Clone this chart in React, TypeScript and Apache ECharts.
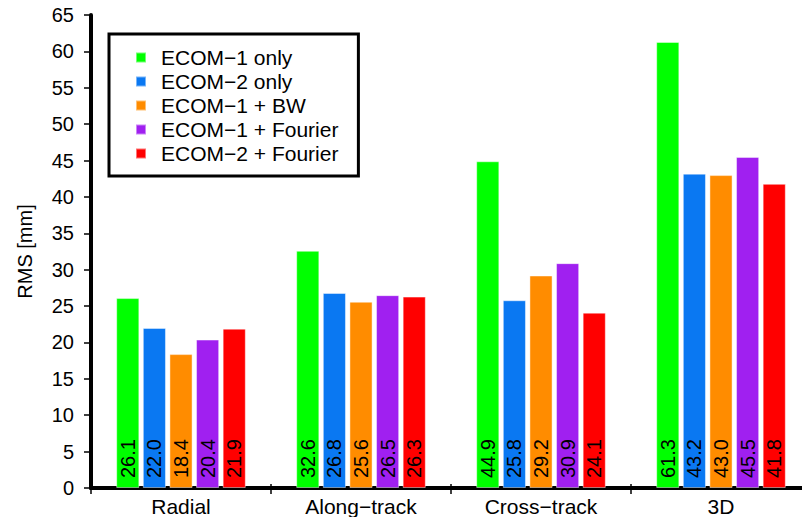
import React, { useEffect, useRef } from "react";
import * as echarts from "echarts";

const categories = ["Radial", "Along\u2212track", "Cross\u2212track", "3D"];
const seriesNames = [
  "ECOM\u22121 only",
  "ECOM\u22122 only",
  "ECOM\u22121 + BW",
  "ECOM\u22121 + Fourier",
  "ECOM\u22122 + Fourier",
];
const ecom1Only = [26.1, 32.6, 44.9, 61.3];
const ecom2Only = [22.0, 26.8, 25.8, 43.2];
const ecom1BW = [18.4, 25.6, 29.2, 43.0];
const ecom1Fourier = [20.4, 26.5, 30.9, 45.5];
const ecom2Fourier = [21.9, 26.3, 24.1, 41.8];
const seriesColors = ["#00ff00", "#0a78f2", "#ff8c00", "#a020f0", "#ff0000"];
const yMin = 0;
const yMax = 65;
const yStep = 5;

const FONT = "'Liberation Sans', Arial, Helvetica, sans-serif";

export default function App() {
  const ref = useRef<HTMLDivElement>(null);
  useEffect(() => {
    if (!ref.current) return;
    const chart = echarts.init(ref.current, undefined, { renderer: "svg" });
    const allData = [ecom1Only, ecom2Only, ecom1BW, ecom1Fourier, ecom2Fourier];
    chart.setOption({
      animation: false,
      textStyle: { fontFamily: FONT },
      grid: {
        left: 91,
        top: 15,
        width: 720,
        height: 473,
        containLabel: false,
        outerBoundsMode: "none",
      },
      legend: {
        orient: "vertical",
        left: 109,
        top: 34,
        data: seriesNames,
        icon: "rect",
        itemWidth: 10,
        itemHeight: 10,
        itemGap: 3,
        padding: [13, 20, 12, 26],
        borderColor: "#000",
        borderWidth: 3,
        backgroundColor: "#fff",
        textStyle: {
          fontFamily: FONT,
          fontSize: 21,
          color: "#000",
          lineHeight: 20,
          padding: [0, 0, 0, 10],
        },
      },
      xAxis: [
        {
          type: "category",
          data: categories,
          position: "bottom",
          axisLine: { show: true, lineStyle: { color: "#000", width: 4 } },
          axisTick: { show: true, length: 6, lineStyle: { color: "#000", width: 1.5 } },
          axisLabel: { color: "#000", fontSize: 21, margin: 8, fontFamily: FONT },
          splitLine: { show: false },
        },
        {
          type: "category",
          data: categories,
          position: "top",
          axisLine: { show: true, lineStyle: { color: "#000", width: 4 } },
          axisTick: { show: true, length: 4, lineStyle: { color: "#000", width: 1.5 } },
          axisLabel: { show: false },
          splitLine: { show: false },
        },
      ],
      yAxis: [
        {
          type: "value",
          min: yMin,
          max: yMax,
          interval: yStep,
          name: "RMS [mm]",
          nameLocation: "middle",
          nameGap: 56,
          nameTextStyle: { color: "#000", fontSize: 20, fontFamily: FONT },
          axisLine: { show: true, lineStyle: { color: "#000", width: 4 } },
          axisTick: { show: true, length: 7, lineStyle: { color: "#000", width: 1.5 } },
          axisLabel: { color: "#000", fontSize: 20, margin: 17, fontFamily: FONT },
          splitLine: { show: false },
        },
        {
          type: "value",
          min: yMin,
          max: yMax,
          interval: yStep,
          position: "right",
          axisLine: { show: true, lineStyle: { color: "#000", width: 4 } },
          axisTick: { show: false },
          axisLabel: { show: false },
          splitLine: { show: false },
        },
      ],
      series: seriesNames.map((name, i) => ({
        name,
        type: "bar",
        data: allData[i],
        barGap: "15%",
        barCategoryGap: "28%",
        itemStyle: {
          color: seriesColors[i],
          borderColor: "rgba(255,255,255,0.45)",
          borderWidth: 1,
        },
        label: {
          show: true,
          position: "insideBottom",
          rotate: 90,
          align: "left",
          verticalAlign: "middle",
          distance: 10,
          color: "#000",
          fontSize: 20,
          fontFamily: FONT,
          formatter: (p: any) => Number(p.value).toFixed(1),
        },
      })),
    });
    return () => chart.dispose();
  }, []);
  return <div ref={ref} style={{ width: 802, height: 517, position: "absolute", left: 0, top: 0 }} />;
}
